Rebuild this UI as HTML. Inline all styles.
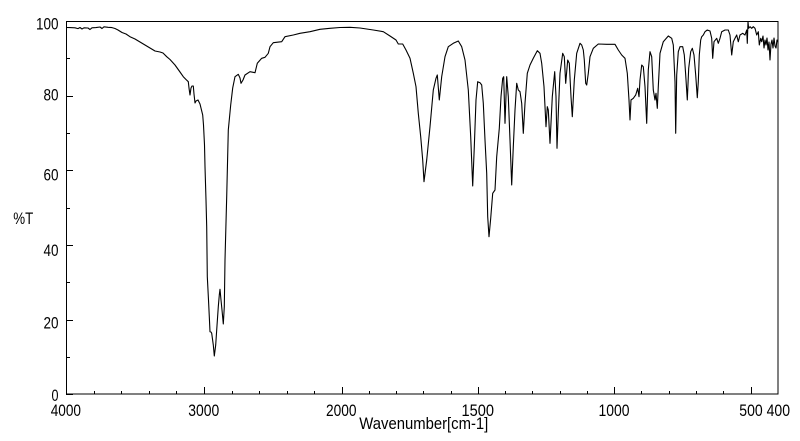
<!DOCTYPE html>
<html><head><meta charset="utf-8"><style>
html,body{margin:0;padding:0;background:#fff;}
svg{display:block;}
text{font-family:"Liberation Sans",sans-serif;font-size:17px;fill:#000;}
</style></head><body>
<svg width="800" height="441" viewBox="0 0 800 441" xmlns="http://www.w3.org/2000/svg">
<rect x="0" y="0" width="800" height="441" fill="#fff"/>
<rect x="66.5" y="21.5" width="711.5" height="372.5" fill="none" stroke="#000" stroke-width="1" shape-rendering="crispEdges"/>
<g stroke="#000" stroke-width="1" shape-rendering="crispEdges">
<!-- y ticks -->
<line x1="66" y1="394.5" x2="73" y2="394.5"/>
<line x1="66" y1="357.5" x2="70" y2="357.5"/>
<line x1="66" y1="320.5" x2="73" y2="320.5"/>
<line x1="66" y1="282.5" x2="70" y2="282.5"/>
<line x1="66" y1="245.5" x2="73" y2="245.5"/>
<line x1="66" y1="208.5" x2="70" y2="208.5"/>
<line x1="66" y1="170.5" x2="73" y2="170.5"/>
<line x1="66" y1="133.5" x2="70" y2="133.5"/>
<line x1="66" y1="96.5" x2="73" y2="96.5"/>
<line x1="66" y1="58.5" x2="70" y2="58.5"/>
<!-- x ticks major -->
<line x1="204.5" y1="387" x2="204.5" y2="394"/>
<line x1="342.5" y1="387" x2="342.5" y2="394"/>
<line x1="478.5" y1="387" x2="478.5" y2="394"/>
<line x1="614.5" y1="387" x2="614.5" y2="394"/>
<line x1="751.5" y1="387" x2="751.5" y2="394"/>
<!-- minor 4000-2000 -->
<line x1="94.5" y1="391" x2="94.5" y2="394"/>
<line x1="121.5" y1="391" x2="121.5" y2="394"/>
<line x1="149.5" y1="391" x2="149.5" y2="394"/>
<line x1="176.5" y1="391" x2="176.5" y2="394"/>
<line x1="232.5" y1="391" x2="232.5" y2="394"/>
<line x1="259.5" y1="391" x2="259.5" y2="394"/>
<line x1="287.5" y1="391" x2="287.5" y2="394"/>
<line x1="314.5" y1="391" x2="314.5" y2="394"/>
<!-- minor 2000-400 -->
<line x1="369.5" y1="391" x2="369.5" y2="394"/>
<line x1="396.5" y1="391" x2="396.5" y2="394"/>
<line x1="423.5" y1="391" x2="423.5" y2="394"/>
<line x1="451.5" y1="391" x2="451.5" y2="394"/>
<line x1="505.5" y1="391" x2="505.5" y2="394"/>
<line x1="532.5" y1="391" x2="532.5" y2="394"/>
<line x1="560.5" y1="391" x2="560.5" y2="394"/>
<line x1="587.5" y1="391" x2="587.5" y2="394"/>
<line x1="641.5" y1="391" x2="641.5" y2="394"/>
<line x1="669.5" y1="391" x2="669.5" y2="394"/>
<line x1="696.5" y1="391" x2="696.5" y2="394"/>
<line x1="723.5" y1="391" x2="723.5" y2="394"/>
</g>
<!-- y labels -->
<text x="36" y="29.5" textLength="22.5" lengthAdjust="spacingAndGlyphs">100</text>
<text x="43.5" y="100.7" textLength="15" lengthAdjust="spacingAndGlyphs">80</text>
<text x="43.5" y="180.7" textLength="15" lengthAdjust="spacingAndGlyphs">60</text>
<text x="43.5" y="256" textLength="15" lengthAdjust="spacingAndGlyphs">40</text>
<text x="43.5" y="328.3" textLength="15" lengthAdjust="spacingAndGlyphs">20</text>
<text x="51.5" y="401" textLength="7" lengthAdjust="spacingAndGlyphs">0</text>
<text x="13.3" y="224" textLength="20" lengthAdjust="spacingAndGlyphs">%T</text>
<!-- x labels -->
<text x="50.7" y="416" textLength="30.3" lengthAdjust="spacingAndGlyphs">4000</text>
<text x="188.3" y="416" textLength="31" lengthAdjust="spacingAndGlyphs">3000</text>
<text x="326" y="416" textLength="30.5" lengthAdjust="spacingAndGlyphs">2000</text>
<text x="461.5" y="416" textLength="32.5" lengthAdjust="spacingAndGlyphs">1500</text>
<text x="598.5" y="416" textLength="31" lengthAdjust="spacingAndGlyphs">1000</text>
<text x="739.3" y="416" textLength="50.7" lengthAdjust="spacingAndGlyphs">500 400</text>
<text x="359.3" y="429" textLength="129" lengthAdjust="spacingAndGlyphs">Wavenumber[cm-1]</text>
<!-- spectrum -->
<polyline fill="none" stroke="#000" stroke-width="1.1" stroke-linejoin="round" points="
66.5,27.5 70,27.6 75,27.8 78,28.6 80,27.5 82,29 84,27.8 88,28 90,29.5 92,27.8 96,27.6 100,27 102,28.5 104,26.8 108,27.3 112,27.6 115,28.5 118,30 122,32.5 126,34 130,36.7 135,39 140,42 145,45 150,48 155,51 160,52 163,53 166.7,56.7 170,59.5 175,65 180,72 183.3,76.7 186,79.5 188.3,81.7 189,88 190,95 191,88 192,86 193.3,86 194,94 195,103 196,101 198,100 200,104 202.7,115 203.5,125 204.5,145 205,166.7 206,200 206.7,226.7 207.3,276.7 208.5,300 209.3,316.7 210,331.7 211,332 211.7,333.3 213.3,345 214.3,356 215.7,345 216.7,330 218.3,306.7 219.3,295 220,289.3 221,300 222,310 223.3,324 224.3,306.7 225,260 226.7,196.7 228.3,130 230.7,105 232.7,88 235,76.7 238.3,74.3 240,78 241,83.3 243,80 245,75 250,71.7 255,72.7 257.3,63.3 261.7,58.3 265,57.3 268.3,53.3 270,46.7 273.3,42.7 281.7,41.7 285,36.7 293.3,35 300,33.3 310,31.7 320,29.3 330,28.3 340,27.5 350,27.3 360,28 373.3,30 383.3,31.7 390,36 396,40 398.3,44 402.7,44 406,50 410,58.3 413.3,73.3 416,86.7 418.3,113.3 420.7,136.7 422.7,160 424,181.7 426.7,160 430,126.7 433.3,90 436,78.3 437.3,75 439.3,100 441.7,76.7 445,56.7 448.3,46.7 453.3,43.3 458.3,41 461.7,46.7 465,60 468.3,90 470.7,136.7 472.7,186 474.3,146.7 476,100 477.7,81.7 480,82.7 481.7,85 483.3,103.3 485,140 486.7,173.3 487.7,216.7 489,236.7 490.7,218.3 492.7,193.3 495,190 496.7,156.7 499.3,128.3 501,96.7 502.7,78.3 503.7,76.7 505,123.3 506.7,76.7 508.3,96.7 510,140 511.7,185 513.3,146.7 515,110 516.7,83.3 518.3,90 520,91.7 521.7,103.3 523.3,133.3 525,103.3 527.3,73.3 530,65 533.3,58.3 537.3,50.7 540,53.3 541.7,63.3 544,86.7 546,126.7 547.3,106.7 548.3,110 550,143.3 552.3,96.7 554.7,71.7 556,96.7 557,148.3 558.3,113.3 560,73.3 562.7,53.3 564.3,56.7 565.7,83.3 567.7,60 569.3,63.3 571,96.7 572.3,116.7 574.3,80 576.7,53.3 580,43.3 581.7,45 583.3,50 584.3,60 585.7,83.3 586.7,85 588.3,73.3 590,56.7 593.3,48.3 598.3,44 606.7,44.3 615,44.3 618.3,50 621.7,55 625,58.3 627.3,73.3 629,100 630,120 631,100 633.3,98.3 635.7,95 637.7,88.3 639,96.7 640,80 641.7,65 643.3,66.7 645,86.7 646.7,123.3 648.3,70 650,51.7 651.7,56.7 653.3,90 655,100 656,93.3 657.3,108.3 658.3,86.7 660,53.3 663.3,41.7 668.3,36 671.7,38.3 673.3,45 675,81.7 675.7,133.3 676.7,75 678.3,51.7 680,46.7 682.7,46.7 684.3,55 685.7,75 687.3,100 688.7,68.3 690.7,51.7 692.3,48.3 694,55 695.7,75 697.3,97.7 698.3,81.7 699.3,55 700.7,40 701.7,36.7 703.3,35 705,31.7 707.3,30 710,31 711.7,38.3 712.7,58.3 714,41.7 716.7,38.3 718.3,43.3 720,38.3 721.7,31.7 725,30 728.3,30 730,35 731.7,55 733.3,41.7 735,38.3 736.7,35 738.3,41.7 740,35 742.7,33.3 745,35 746.7,30 747.3,43.3 748,21.5 748.6,28.3 750,26.7 751.7,28.3 753.3,26.7 755,28.3 756.7,35 758.3,31.7 759.3,45 760.7,38.3 761.7,41.7 763,36 764,48 765,40 766,45 767,38 768,50 769,42 770,60 771,44 772,40 773,48 774,38 775,46 776,48 777,40 778,42"/>
</svg>
</body></html>
